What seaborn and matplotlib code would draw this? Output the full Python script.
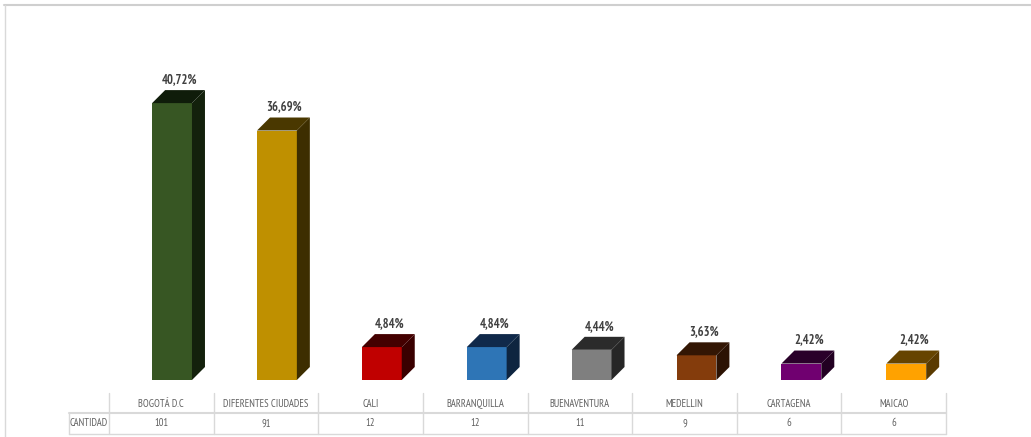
import matplotlib
matplotlib.use("Agg")
import matplotlib.pyplot as plt
from matplotlib.patches import Polygon
from matplotlib.lines import Line2D
from matplotlib.transforms import IdentityTransform
import seaborn as sns

# Datos
ciudades = ["BOGOTÁ D.C", "DIFERENTES CIUDADES", "CALI", "BARRANQUILLA",
            "BUENAVENTURA", "MEDELLIN", "CARTAGENA", "MAICAO"]
porcentaje = [40.72, 36.69, 4.84, 4.84, 4.44, 3.63, 2.42, 2.42]
cantidad = [101, 91, 12, 12, 11, 9, 6, 6]
fila_tabla = "CANTIDAD"

# Colores de cada barra: cara frontal, lateral y superior
color_frente = ["#375623", "#BF9000", "#C00000", "#2E75B6",
                "#7F7F7F", "#843C0C", "#700070", "#FFA200"]
color_lado = ["#13210c", "#3d2e00", "#3a0000", "#0e2540",
              "#262626", "#2c1203", "#220022", "#5a3a00"]
color_tapa = ["#0f1c0a", "#4a3800", "#440000", "#10294a",
              "#2b2b2b", "#331604", "#2a002a", "#664400"]

sns.set_theme(style="white")
plt.rcParams["font.family"] = ["PT Sans Narrow", "DejaVu Sans"]

W, H = 1031, 437
fig = plt.figure(figsize=(W / 100, H / 100), dpi=100)
fig.patch.set_facecolor("white")


def px_rect(x0, y0, x1, y1):
    return [x0 / W, 1 - y1 / H, (x1 - x0) / W, (y1 - y0) / H]


ax = fig.add_axes(px_rect(119.6, 40, 958.7, 380))
sns.barplot(x=ciudades, y=porcentaje, hue=ciudades, palette=color_frente,
            width=0.38, saturation=1, legend=False, ax=ax, linewidth=0)
ax.set_xlim(-0.5, 7.5)
ax.set_ylim(0, 50)
ax.axis("off")

# Caras laterales y superiores (profundidad en píxeles)
prof = 13
barras = sorted(ax.patches, key=lambda p: p.get_x())
for i, p in enumerate(barras):
    x0, y0 = p.get_x(), p.get_y()
    x1, y1 = x0 + p.get_width(), y0 + p.get_height()
    (X0, Y0), (X1, Y1) = ax.transData.transform([(x0, y0), (x1, y1)])
    lado = Polygon([(X1, Y0), (X1 + prof, Y0 + prof), (X1 + prof, Y1 + prof), (X1, Y1)],
                   closed=True, facecolor=color_lado[i], edgecolor="none",
                   transform=IdentityTransform(), clip_on=False)
    tapa = Polygon([(X0, Y1), (X1, Y1), (X1 + prof, Y1 + prof), (X0 + prof, Y1 + prof)],
                   closed=True, facecolor=color_tapa[i], edgecolor="none",
                   transform=IdentityTransform(), clip_on=False)
    fig.add_artist(lado)
    fig.add_artist(tapa)
    etiqueta = f"{porcentaje[i]:.2f}%".replace(".", ",")
    ax.annotate(etiqueta, xy=(p.get_x() + p.get_width() / 2, y1),
                xytext=(prof / 2 + 1, prof + 4), textcoords="offset pixels",
                ha="center", va="bottom", fontsize=9, fontweight="bold",
                color="#404040", annotation_clip=False)

# Tabla de datos bajo el gráfico
tx0, tx1 = 69, 946
c0 = 109
ancho = (tx1 - c0) / len(ciudades)
ty0, ty1, ty2 = 393, 413, 434
tax = fig.add_axes(px_rect(tx0, ty0, tx1, ty2))
tax.set_xlim(tx0, tx1)
tax.set_ylim(ty2, ty0)
tax.axis("off")
gris = "#d9d9d9"
for k in range(len(ciudades) + 1):
    xv = c0 + k * ancho
    tax.plot([xv, xv], [ty0, ty2], color=gris, lw=1, clip_on=False)
tax.plot([tx0, tx0], [ty1, ty2], color=gris, lw=1, clip_on=False)
tax.plot([tx0, tx1], [ty1, ty1], color=gris, lw=1.5, clip_on=False)
tax.plot([tx0, tx1], [ty2, ty2], color=gris, lw=1, clip_on=False)
for k, (c, n) in enumerate(zip(ciudades, cantidad)):
    xc = c0 + (k + 0.5) * ancho
    tax.text(xc, (ty0 + ty1) / 2 + 1, c, ha="center", va="center",
             fontsize=7.6, color="#606060")
    tax.text(xc, (ty1 + ty2) / 2, str(n), ha="center", va="center",
             fontsize=7.6, color="#606060")
tax.text((tx0 + c0) / 2, (ty1 + ty2) / 2, fila_tabla, ha="center", va="center",
         fontsize=7.6, color="#606060")

# Marco exterior
fig.add_artist(Line2D([4 / W, 1], [1 - 4.5 / H, 1 - 4.5 / H], color="#cfcfcf", lw=1.5))
fig.add_artist(Line2D([4.5 / W, 4.5 / W], [0, 1 - 4.5 / H], color="#d9d9d9", lw=1))

fig.savefig("out.png", dpi=100, facecolor="white")
